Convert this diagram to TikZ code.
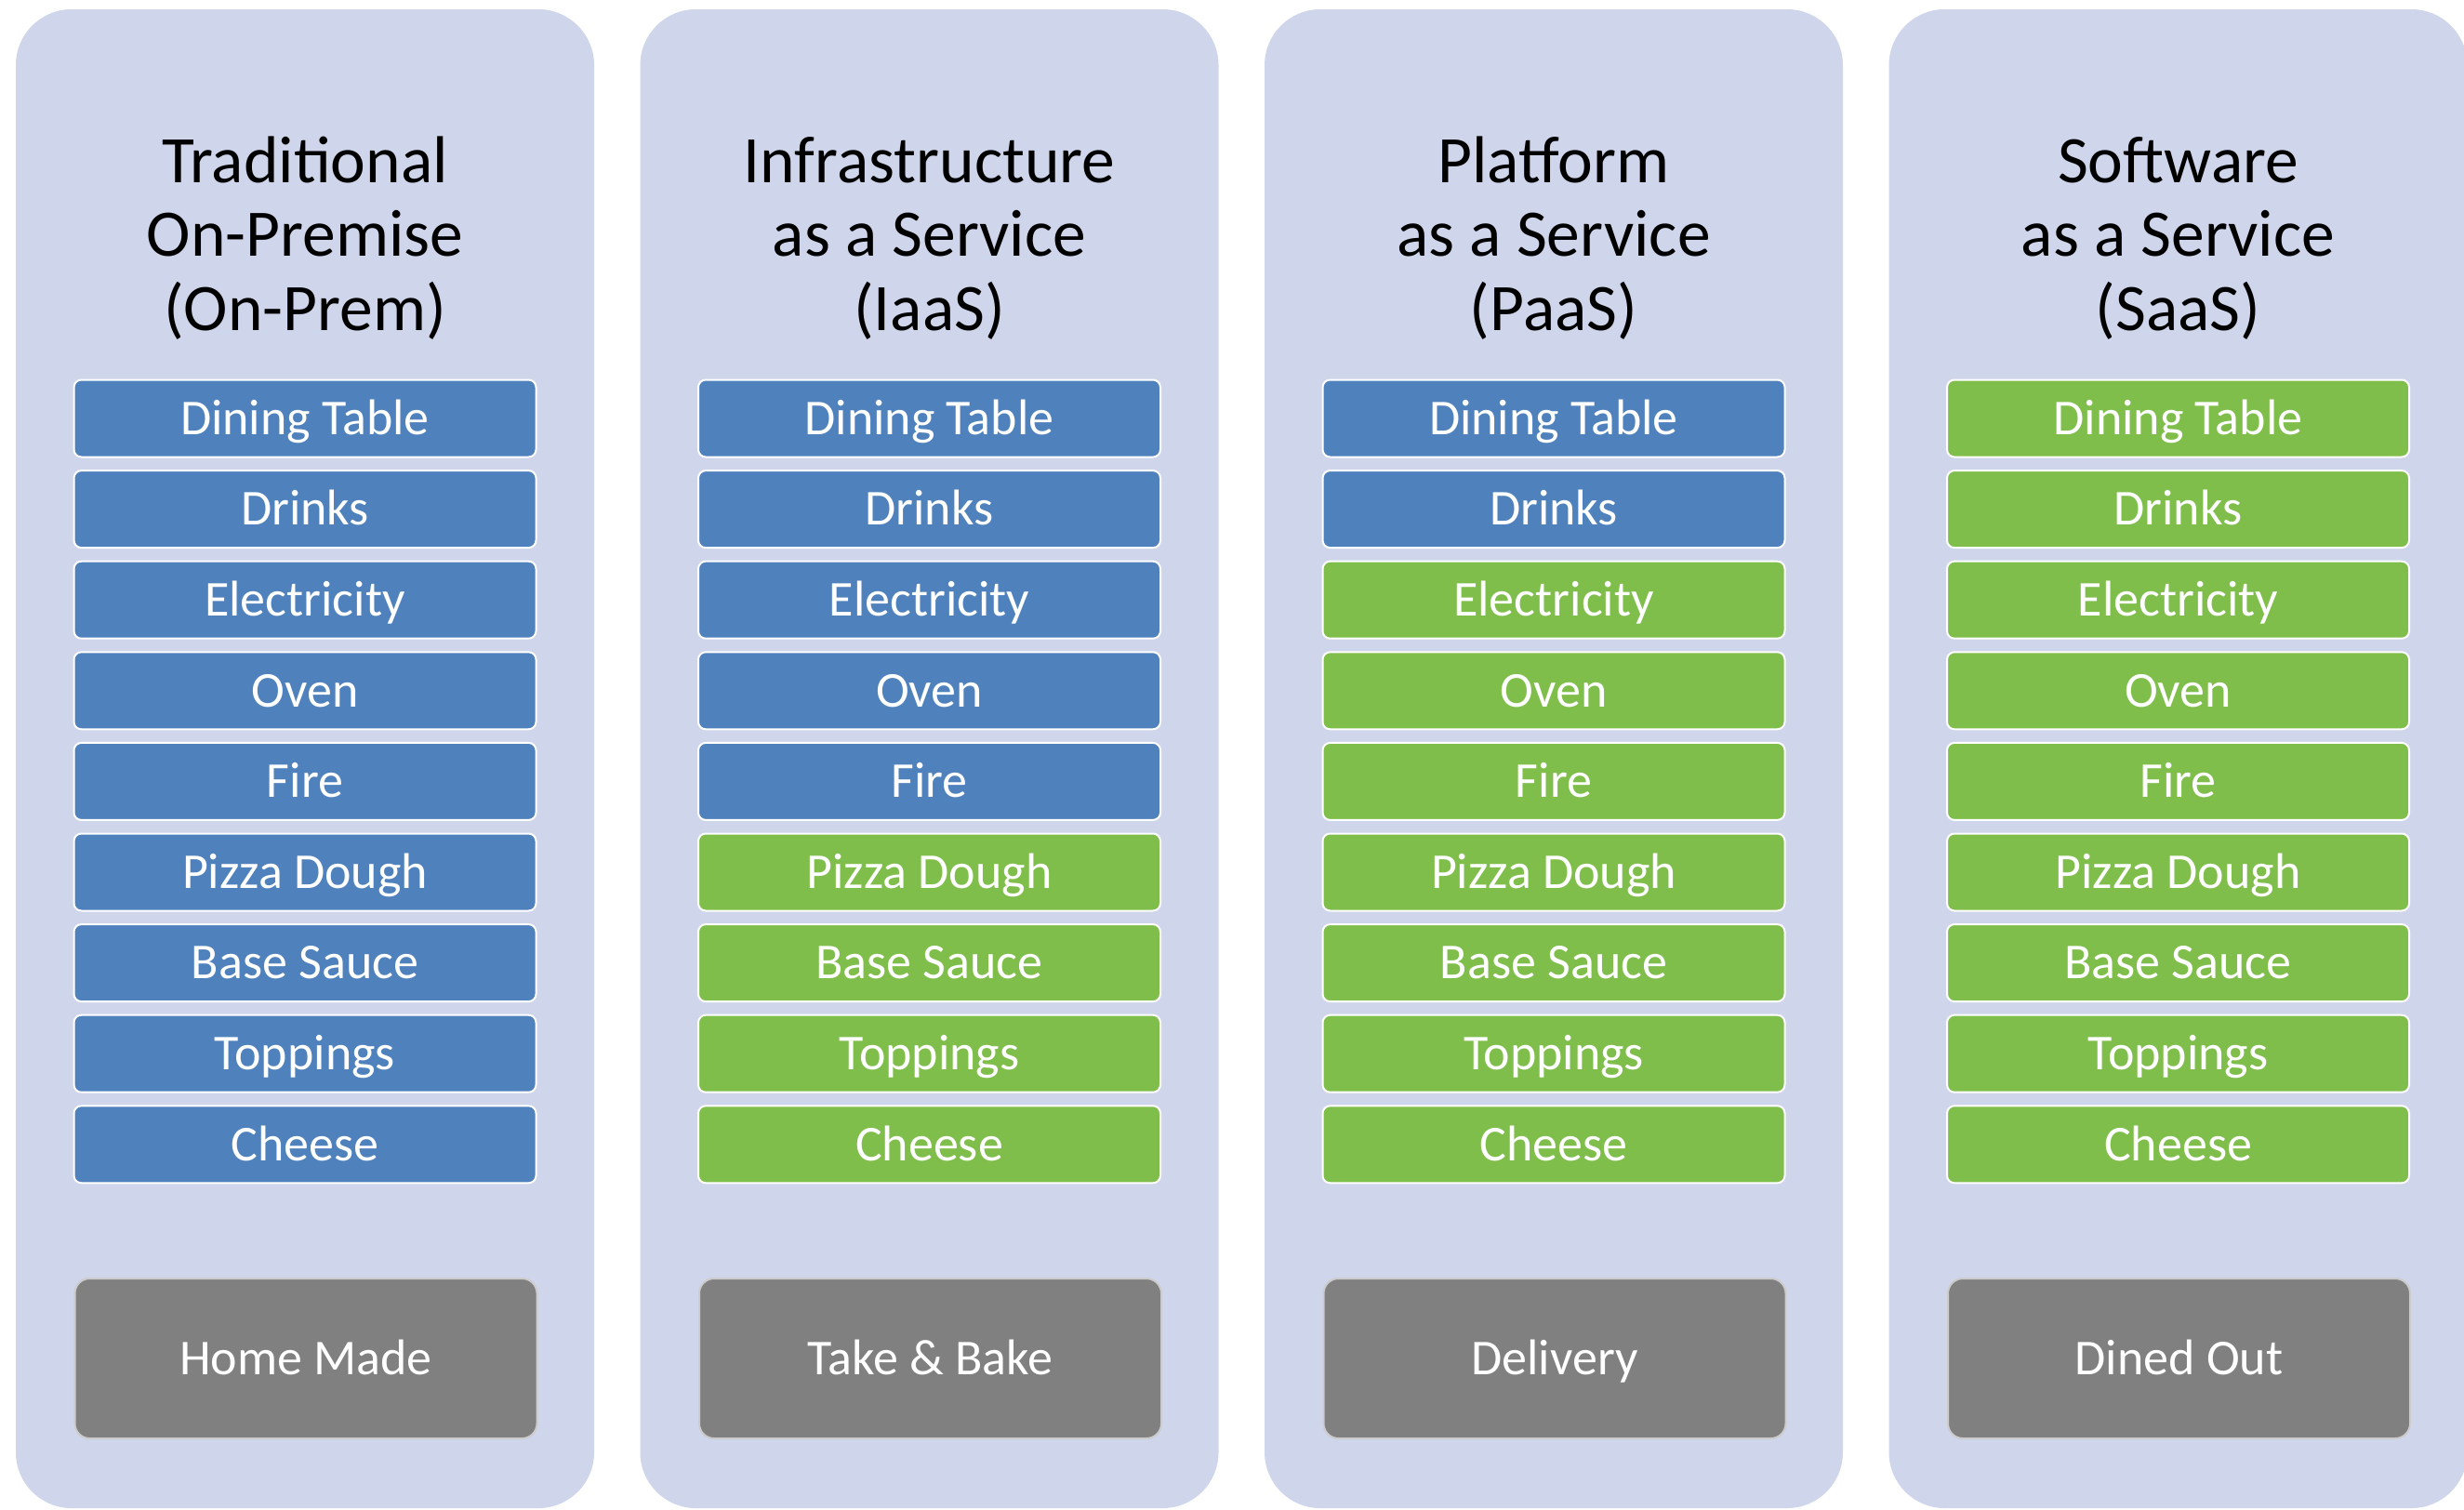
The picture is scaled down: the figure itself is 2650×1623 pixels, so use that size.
\documentclass[tikz,border=0pt]{standalone}
\usepackage{fontspec}
\setmainfont{Carlito}
\definecolor{panelfill}{RGB}{207,213,234}
\definecolor{ownblue}{RGB}{79,129,189}
\definecolor{svcgreen}{RGB}{128,190,76}
\definecolor{boxgray}{RGB}{128,128,128}
\begin{document}
\begin{tikzpicture}[x=0.5pt,y=-0.5pt,
	panel/.style={fill=panelfill,rounded corners=30pt},
	title/.style={align=center,font=\fontsize{35.75}{39.75}\selectfont},
	item/.style={draw=white,line width=1pt,rounded corners=4pt,minimum width=248.5pt,minimum height=41.5pt,inner sep=0pt,text=white,text height=17.3pt,text depth=0pt,font=\fontsize{27}{32}\selectfont},
	mine/.style={item,fill=ownblue},
	theirs/.style={item,fill=svcgreen},
	model/.style={item,fill=boxgray,draw=black!20,minimum height=86pt,rounded corners=8pt}]
	\useasboundingbox (0,0) rectangle (2650,1623);
	\foreach \c/\t/\m/\b in {1/{Traditional\\On-Premise\\(On-Prem)}/{Home Made}/9,
		2/{Infrastructure\\as a Service\\(IaaS)}/{Take \& Bake}/5,
		3/{Platform\\as a Service\\(PaaS)}/{Delivery}/2,
		4/{Software\\as a Service\\(SaaS)}/{Dined Out}/0}
	{
		\fill[panel] ({17+671.5*(\c-1)},10) rectangle +(622,1612);
		\node[title] (t\c) at ({328+671.5*(\c-1)},256) {\t};
		\foreach \n [count=\i] in {Dining Table,Drinks,Electricity,Oven,Fire,Pizza Dough,Base Sauce,Toppings,Cheese}
		{
			\ifnum\i>\b \def\sty{theirs}\else\def\sty{mine}\fi
			\node[\sty] (c\c-\i) at ({328+671.5*(\c-1)},{450+97.6*(\i-1)}) {\n};
		}
		\node[model] (m\c) at ({329+671.5*(\c-1)},1461) {\m};
	}
	%blue = done at home, green = done by the provider
\end{tikzpicture}
\end{document}
